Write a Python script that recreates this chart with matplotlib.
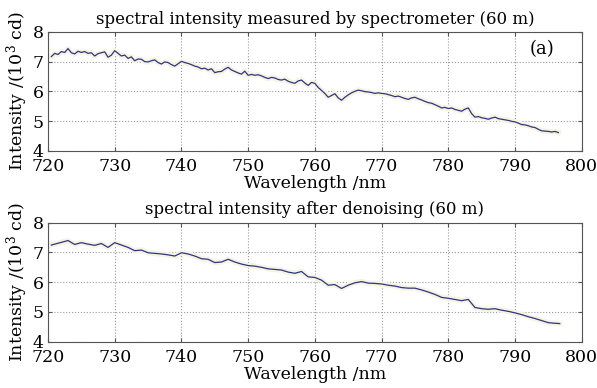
import numpy as np
import matplotlib
matplotlib.use('Agg')
import matplotlib.pyplot as plt

plt.rcParams['font.family'] = 'DejaVu Serif'
plt.rcParams['mathtext.fontset'] = 'dejavuserif'

# measured spectrum, 0.5 nm steps from 720.5 to 796.5 nm
wl_meas = np.arange(720.5, 796.6, 0.5)
meas = [7.17, 7.28, 7.24, 7.34, 7.31, 7.44, 7.30, 7.26, 7.35, 7.31,
        7.34, 7.28, 7.30, 7.19, 7.27, 7.30, 7.33, 7.15, 7.22, 7.37,
        7.28, 7.19, 7.22, 7.11, 7.16, 7.03, 7.09, 7.08, 7.00, 6.99,
        7.03, 7.06, 6.97, 6.92, 6.99, 6.97, 6.90, 6.85, 6.93, 7.01,
        6.97, 6.94, 6.90, 6.85, 6.82, 6.76, 6.78, 6.72, 6.76, 6.63,
        6.66, 6.67, 6.75, 6.81, 6.72, 6.67, 6.62, 6.58, 6.68, 6.54,
        6.57, 6.54, 6.56, 6.52, 6.47, 6.43, 6.47, 6.45, 6.40, 6.38,
        6.41, 6.34, 6.30, 6.27, 6.35, 6.38, 6.28, 6.20, 6.30, 6.27,
        6.13, 6.03, 5.93, 5.80, 5.86, 5.92, 5.78, 5.70, 5.80, 5.88,
        5.95, 6.00, 6.04, 6.02, 5.99, 5.98, 5.96, 5.93, 5.95, 5.93,
        5.92, 5.89, 5.86, 5.82, 5.84, 5.80, 5.76, 5.73, 5.78, 5.80,
        5.75, 5.71, 5.66, 5.62, 5.60, 5.55, 5.50, 5.44, 5.46, 5.42,
        5.44, 5.39, 5.36, 5.33, 5.40, 5.44, 5.25, 5.13, 5.15, 5.11,
        5.09, 5.06, 5.10, 5.13, 5.08, 5.06, 5.04, 5.02, 4.99, 4.97,
        4.93, 4.88, 4.87, 4.84, 4.80, 4.78, 4.72, 4.67, 4.66, 4.65,
        4.63, 4.65, 4.61]

# denoised spectrum
wl_den = [720.5] + list(range(721, 797)) + [796.7]
den = [7.25, 7.28, 7.34, 7.40, 7.27, 7.33, 7.28, 7.24, 7.30, 7.17,
       7.33, 7.25, 7.17, 7.06, 7.08, 6.99, 6.97, 6.95, 6.92, 6.88,
       6.99, 6.95, 6.88, 6.79, 6.77, 6.66, 6.68, 6.77, 6.68, 6.61,
       6.56, 6.54, 6.50, 6.45, 6.43, 6.41, 6.34, 6.30, 6.36, 6.18,
       6.16, 6.07, 5.90, 5.92, 5.79, 5.90, 5.98, 6.02, 5.97, 5.96,
       5.94, 5.90, 5.87, 5.82, 5.80, 5.80, 5.74, 5.67, 5.59, 5.49,
       5.46, 5.42, 5.38, 5.42, 5.15, 5.11, 5.09, 5.11, 5.06, 5.02,
       4.97, 4.91, 4.84, 4.78, 4.71, 4.64, 4.62, 4.61]

xticks = [720, 730, 740, 750, 760, 770, 780, 790, 800]
yticks = [4, 5, 6, 7, 8]

fig = plt.figure(figsize=(5.97, 3.88), dpi=100)
ax1 = fig.add_axes([0.0804, 0.6116, 0.894, 0.306])
ax2 = fig.add_axes([0.0804, 0.1193, 0.894, 0.3067])

panels = [(ax1, wl_meas, meas, 'spectral intensity measured by spectrometer (60 m)'),
          (ax2, wl_den, den, 'spectral intensity after denoising (60 m)')]

for ax, x, y, title in panels:
    ax.plot(x, y, color='#f5f4e4', lw=4, zorder=2)
    ax.plot(x, y, color='#2e3580', lw=0.9, zorder=3)
    ax.set_xlim(720, 800)
    ax.set_ylim(4, 8)
    ax.set_xticks(xticks)
    ax.set_yticks(yticks)
    ax.grid(True, linestyle=':', color='#9a9a9a', lw=0.8)
    ax.tick_params(axis='both', direction='in', top=True, right=True,
                   labelsize=12.5, length=3, color='#555555')
    ax.tick_params(axis='x', pad=5)
    ax.tick_params(axis='y', pad=3)
    for s in ax.spines.values():
        s.set_color('#555555')
        s.set_linewidth(0.8)
    ax.set_title(title, fontsize=12, pad=6)
    ax.set_xlabel('Wavelength /nm', fontsize=12.5, labelpad=0)
    ax.set_ylabel('Intensity /(10$^3$ cd)', fontsize=12.5, labelpad=2)

ax1.text(0.925, 0.86, '(a)', transform=ax1.transAxes, fontsize=13,
         ha='center', va='center')

fig.savefig('out.png', dpi=100, facecolor='white')
